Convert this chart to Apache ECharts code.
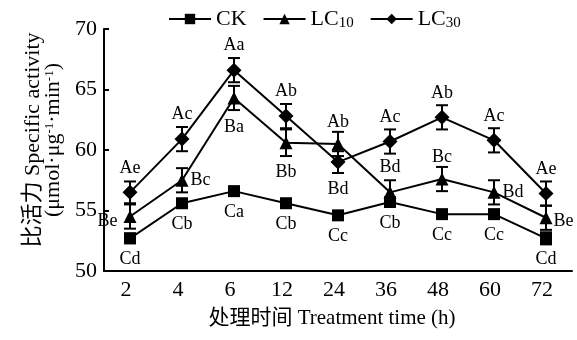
<!DOCTYPE html>
<html>
<head>
<meta charset="utf-8">
<script src="https://cdn.jsdelivr.net/npm/echarts@6/dist/echarts.min.js"></script>
<style>html,body{margin:0;padding:0;background:#fff;}#c{width:577px;height:340px;}</style>
</head>
<body>
<div id="c"></div>
<script>
// ---- data ----
const categories = ['2', '4', '6', '12', '24', '36', '48', '60', '72'];
const ck   = [52.7, 55.6, 56.6, 55.6, 54.6, 55.7, 54.7, 54.7, 52.7];
const lc10 = [54.5, 57.5, 64.3, 60.6, 60.5, 56.5, 57.6, 56.5, 54.4];
const lc30 = [56.5, 60.9, 66.6, 62.8, 59.0, 60.7, 62.7, 60.8, 56.4];
const ckErr   = [0.4, 0.3, 0.3, 0.3, 0.3, 0.4, 0.3, 0.3, 0.5];
const lc10Err = [1.0, 1.0, 1.0, 1.1, 1.0, 1.0, 1.0, 1.0, 1.0];
const lc30Err = [0.9, 1.0, 1.0, 1.0, 0.9, 1.0, 1.0, 1.0, 1.0];
const ckLabels   = ['Cd', 'Cb', 'Ca', 'Cb', 'Cc', 'Cb', 'Cc', 'Cc', 'Cd'];
const lc10Labels = ['Be', 'Bc', 'Ba', 'Bb', 'Ab', 'Bd', 'Bc', 'Bd', 'Be'];
const lc30Labels = ['Ae', 'Ac', 'Aa', 'Ab', 'Bd', 'Ac', 'Ab', 'Ac', 'Ae'];
const yTicks = [50, 55, 60, 65, 70];

// ---- presentation ----
const FONT = "'Liberation Serif', 'Times New Roman', 'Noto Sans CJK SC', serif";
const labelFont = {fontFamily: FONT, fontSize: 18, color: '#000'};
// label placement per point: [position, distance, offsetY]
const ckPlace = ckLabels.map(() => ['bottom', 6, 0]);
const lc10Place = [['left', 6, 5], ['right', 2, 0], ['bottom', 14, 0], ['bottom', 14, 0], ['top', 6, 0],
                   ['top', 10, 0], ['top', 6, 0], ['right', 2, 0], ['right', 1, 4]];
const lc30Place = [['top', 8, 0], ['top', 8, 0], ['top', 8, 0], ['top', 8, 0], ['bottom', 11, 0],
                   ['top', 8, 0], ['top', 8, 0], ['top', 8, 0], ['top', 8, 0]];

function mkData(vals, labs, place) {
  return vals.map((v, i) => ({
    value: v,
    label: {show: true, formatter: labs[i], position: place[i][0], distance: place[i][1],
            offset: [0, place[i][2]], ...labelFont}
  }));
}
function errData(vals, errs) { return vals.map((v, i) => [i, v, errs[i]]); }
function renderErr(params, api) {
  const x = api.value(0), v = api.value(1), e = api.value(2);
  const hi = api.coord([x, v + e]), lo = api.coord([x, v - e]);
  const w = 6, st = {stroke: '#000', lineWidth: 2};
  return {type: 'group', children: [
    {type: 'line', shape: {x1: hi[0], y1: hi[1], x2: lo[0], y2: lo[1]}, style: st},
    {type: 'line', shape: {x1: hi[0] - w, y1: hi[1], x2: hi[0] + w, y2: hi[1]}, style: st},
    {type: 'line', shape: {x1: lo[0] - w, y1: lo[1], x2: lo[0] + w, y2: lo[1]}, style: st}
  ]};
}
function lineSeries(name, vals, labs, place, symbol, size) {
  return {
    name, type: 'line', data: mkData(vals, labs, place), symbol, symbolSize: size,
    itemStyle: {color: '#000'}, lineStyle: {color: '#000', width: 2}, z: 3
  };
}
function errSeries(name, vals, errs) {
  return {name, type: 'custom', data: errData(vals, errs), renderItem: renderErr,
          encode: {x: 0, y: 1}, z: 2, silent: true};
}

const chart = echarts.init(document.getElementById('c'), null, {renderer: 'canvas'});
chart.setOption({
  animation: false,
  backgroundColor: '#fff',
  grid: {left: 104, right: 5, top: 29, bottom: 69},
  legend: {
    data: ['CK', 'LC10', 'LC30'], left: 163, top: 3, itemWidth: 42, itemHeight: 13, itemGap: 16,
    formatter: n => n === 'CK' ? '{m|CK}' : '{m|LC}{s|' + n.slice(2) + '}',
    textStyle: {fontFamily: FONT, fontSize: 22, color: '#000',
      rich: {m: {fontFamily: FONT, fontSize: 22, lineHeight: 24, color: '#000'},
             s: {fontFamily: FONT, fontSize: 15, lineHeight: 15, verticalAlign: 'bottom', color: '#000'}}}
  },
  xAxis: {
    type: 'category', data: categories,
    name: '处理时间 Treatment time (h)', nameLocation: 'middle', nameGap: 37,
    nameTextStyle: {fontFamily: FONT, fontSize: 21, color: '#000', padding: [0, 12, 0, 0]},
    axisLine: {lineStyle: {color: '#000', width: 2}},
    axisTick: {inside: true, length: 5, lineStyle: {color: '#000', width: 2}},
    axisLabel: {fontFamily: FONT, fontSize: 22, color: '#000', margin: 8, padding: [0, 8, 0, 0]},
    splitLine: {show: false}
  },
  yAxis: {
    type: 'value', min: yTicks[0], max: yTicks[yTicks.length - 1], interval: 5,
    name: '{t|比活力 Specific activity}\n{t|(μmol·μg}{u|-1}{t|·min}{u|-1}{t|)}',
    nameLocation: 'middle', nameRotate: 90, nameGap: 40,
    nameTextStyle: {fontFamily: FONT, fontSize: 22, color: '#000', padding: [0, 0, 0, 20],
      rich: {t: {fontFamily: FONT, fontSize: 22, lineHeight: 20, color: '#000'},
             u: {fontFamily: FONT, fontSize: 13, lineHeight: 13, verticalAlign: 'top', color: '#000'}}},
    axisLine: {show: true, lineStyle: {color: '#000', width: 2}},
    axisTick: {show: true, inside: true, length: 5, lineStyle: {color: '#000', width: 2}},
    axisLabel: {fontFamily: FONT, fontSize: 22, color: '#000', margin: 7},
    splitLine: {show: false}
  },
  series: [
    errSeries('CK-err', ck, ckErr),
    errSeries('LC10-err', lc10, lc10Err),
    errSeries('LC30-err', lc30, lc30Err),
    lineSeries('CK', ck, ckLabels, ckPlace, 'rect', 12),
    lineSeries('LC10', lc10, lc10Labels, lc10Place, 'triangle', 13),
    lineSeries('LC30', lc30, lc30Labels, lc30Place, 'diamond', 15)
  ]
});
</script>
</body>
</html>
